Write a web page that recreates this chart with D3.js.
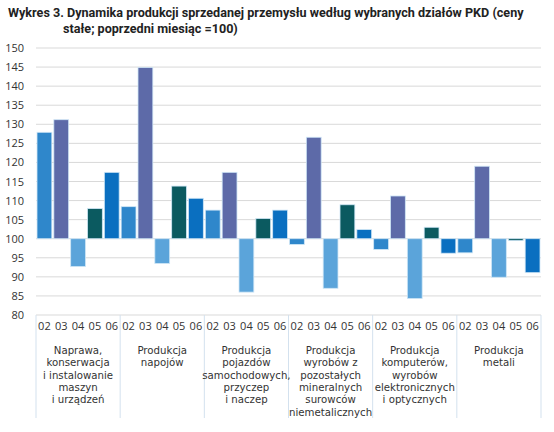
<!DOCTYPE html>
<html><head><meta charset="utf-8">
<script src="https://cdn.jsdelivr.net/npm/d3@7/dist/d3.min.js"></script>
<style>body{margin:0;background:#fff}svg{display:block}</style>
</head><body>
<svg id="c" width="554" height="432"></svg>
<script>
const groups = [
  ["Naprawa,","konserwacja","i instalowanie","maszyn","i urządzeń"],
  ["Produkcja","napojów"],
  ["Produkcja","pojazdów","samochodowych,","przyczep","i naczep"],
  ["Produkcja","wyrobów z","pozostałych","mineralnych","surowców","niemetalicznych"],
  ["Produkcja","komputerów,","wyrobów","elektronicznych","i optycznych"],
  ["Produkcja","metali"]
];
const months = ["02","03","04","05","06"];
const values = [
  [127.9,131.2,92.7,107.9,117.4],
  [108.4,144.9,93.5,113.8,110.6],
  [107.5,117.4,86.0,105.3,107.5],
  [98.5,126.6,87.0,108.9,102.4],
  [97.2,111.2,84.3,103.0,96.2],
  [96.3,119.0,89.9,99.5,91.1]
];
const monthColors = ["#2F87CB","#5D6AA8","#5BA4DA","#0B5A60","#0A6FC0"];
const yTicks = [80,85,90,95,100,105,110,115,120,125,130,135,140,145,150];

const svg = d3.select("#c");
const font = "'Open Sans', sans-serif";
const catFont = "'DejaVu Sans', sans-serif";
const L = 36, R = 541, T = 48, B = 315;

// title
const title = svg.append("text").attr("font-family","Roboto, sans-serif").attr("font-weight","bold")
  .attr("font-size",12.6).attr("fill","#222");
title.append("tspan").attr("x",8).attr("y",17).text("Wykres 3. Dynamika produkcji sprzedanej przemysłu według wybranych działów PKD (ceny");
title.append("tspan").attr("x",63).attr("y",33).text("stałe; poprzedni miesiąc =100)");

const y = d3.scaleLinear().domain([80,150]).range([B,T]);
const gx = d3.scaleBand().domain(d3.range(groups.length)).range([L,R]).padding(0);
const mx = d3.scaleBand().domain(months).range([0,gx.bandwidth()]).paddingInner(0.12).paddingOuter(0.06);

// grid
svg.append("g").selectAll("line").data(yTicks.slice(1)).join("line")
  .attr("x1",L).attr("x2",R).attr("y1",d=>y(d)).attr("y2",d=>y(d))
  .attr("stroke","#D9D9D9").attr("stroke-width",1);

// y axis labels
const yAxis = d3.axisLeft(y).tickValues(yTicks).tickSize(0).tickPadding(0);
const ya = svg.append("g").attr("transform",`translate(24,0)`).call(yAxis);
ya.select(".domain").remove();
ya.selectAll("text").attr("font-family",font).attr("font-size",11).attr("fill","#333");

// bars
const gg = svg.append("g").selectAll("g").data(values).join("g")
  .attr("transform",(d,i)=>`translate(${gx(i)},0)`);
gg.selectAll("rect").data(d=>d.map((v,j)=>({v,m:months[j],j}))).join("rect")
  .attr("x",d=>mx(d.m)).attr("width",mx.bandwidth())
  .attr("y",d=>y(Math.max(d.v,100))).attr("height",d=>Math.abs(y(d.v)-y(100)))
  .attr("fill",d=>monthColors[d.j]).attr("stroke","#CFE6F6").attr("stroke-width",0.8);

// bottom axis line
svg.append("line").attr("x1",L).attr("x2",R).attr("y1",B).attr("y2",B).attr("stroke","#D9D9D9");

// month ticks
const xAxisG = svg.append("g");
groups.forEach((g,i)=>{
  const ax = d3.axisBottom(mx).tickSize(0).tickPadding(0);
  const a = xAxisG.append("g").attr("transform",`translate(${gx(i)},${B+7})`).call(ax);
  a.select(".domain").remove();
  a.selectAll("text").attr("font-family",font).attr("font-size",11).attr("fill","#333").attr("dy","0.71em");
});

// separators
svg.append("g").selectAll("line").data(d3.range(groups.length+1)).join("line")
  .attr("x1",i=>i<groups.length?gx(i):R).attr("x2",i=>i<groups.length?gx(i):R)
  .attr("y1",B).attr("y2",418).attr("stroke","#D3E1EE").attr("stroke-width",1);

// category labels
groups.forEach((lines,i)=>{
  const t = svg.append("g");
  lines.forEach((s,k)=>{
    t.append("text").attr("font-family",catFont).attr("font-size",10.2).attr("fill","#333")
      .attr("text-anchor","middle")
      .attr("x",gx(i)+gx.bandwidth()/2).attr("y",354+k*12.3).text(s);
  });
});
</script>
</body></html>
